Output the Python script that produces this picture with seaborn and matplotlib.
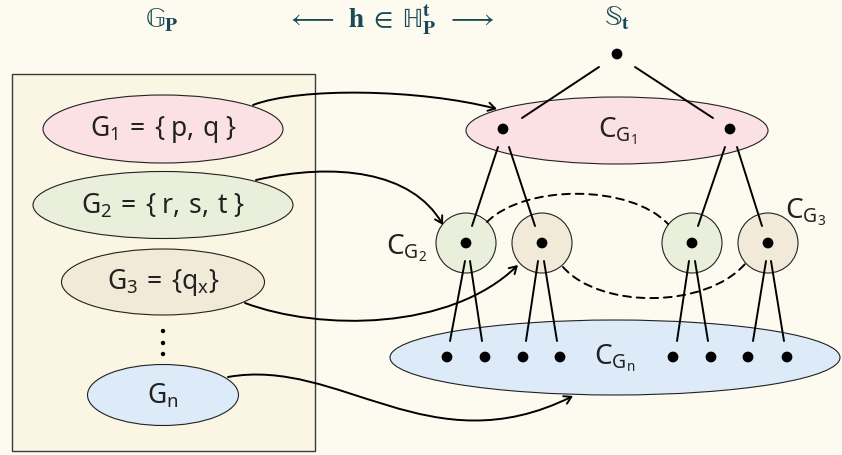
import matplotlib
matplotlib.use("Agg")
import matplotlib.pyplot as plt
import seaborn as sns
import pandas as pd
from matplotlib.patches import Ellipse, Circle, Rectangle, FancyArrowPatch
from matplotlib.path import Path

sns.set_theme(style="white")
plt.rcParams['font.family'] = ['Noto Sans', 'DejaVu Sans']
plt.rcParams['mathtext.fontset'] = 'stix'
plt.rcParams['mathtext.default'] = 'regular'

# colori
bg = '#fdfbf0'
box_fill = '#fbf5e4'
ink = '#1b4a57'
pink = '#fbe0e4'
green = '#e9efdb'
beige = '#f1ead9'
blue = '#dcebf7'

# intestazioni
header_labels = [r'$\mathbb{G}_\mathbf{P}$',
                 r'$\longleftarrow\;\; \mathbf{h} \;\in\; \mathbb{H}_\mathbf{P}^\mathbf{t}\;\; \longrightarrow$',
                 r'$\mathbb{S}_\mathbf{t}$']
header_x = [162, 390, 617]
header_y = [20, 20, 18]

# gruppi a sinistra
group_labels = [r'$G_1\; =\; \{\ p,\; q\ \}$', r'$G_2\; =\; \{\ r,\; s,\; t\ \}$',
                r'$G_3\; =\; \{q_x\}$', r'$G_n$']
group_x = [163, 163, 163, 163]
group_y = [130, 206, 283, 396]
group_w = [240, 260, 203, 151]
group_h = [68, 67, 66, 61]
group_colors = [pink, green, beige, blue]

# albero a destra
root = (617, 55)
cg1_dots_x = [503, 730]
cg1_dots_y = [130, 130]
circle_x = [466, 542, 692, 768]
circle_y = [244, 244, 244, 244]
circle_colors = [green, beige, green, beige]
leaf_x = [447, 485, 523, 560, 673, 711, 748, 787]
leaf_y = [358] * 8

# archi dell'albero (inizio, fine)
edges = [((599, 68), (522, 119)), ((635, 68), (713, 119)),
         ((498, 148), (472, 227)), ((509, 148), (535, 227)),
         ((725, 148), (698, 227)), ((737, 148), (762, 227)),
         ((465, 262), (450, 342)), ((470, 262), (482, 342)),
         ((538, 262), (526, 342)), ((544, 262), (557, 342)),
         ((689, 262), (677, 342)), ((695, 262), (708, 342)),
         ((766, 262), (753, 342)), ((771, 262), (784, 342))]

# frecce curve (bezier cubiche)
arrows = [[(253, 106), (300, 88), (420, 90), (497, 110)],
          [(256, 181), (335, 163), (412, 172), (443, 226)],
          [(245, 304), (320, 332), (450, 332), (518, 266)],
          [(228, 378), (340, 358), (430, 468), (573, 397)]]
dashed = [[(487, 223), (525, 185), (630, 185), (668, 225)],
          [(563, 268), (600, 310), (705, 310), (745, 265)]]

fig = plt.figure(figsize=(8.42, 4.56), dpi=100)
fig.patch.set_facecolor(bg)
ax = fig.add_axes([0, 0, 1, 1])
ax.set_facecolor(bg)

ax.add_patch(Rectangle((12, 75), 303, 377, facecolor=box_fill, edgecolor='#3a3a3a', lw=1.0, zorder=1))

for x, y, w, h, c, lab in zip(group_x, group_y, group_w, group_h, group_colors, group_labels):
    ax.add_patch(Ellipse((x, y), w, h, facecolor=c, edgecolor='#222222', lw=0.8, zorder=2))
    ax.text(x, y, lab, ha='center', va='center', fontsize=19, color='#222222', zorder=5)

for x, y, lab in zip(header_x, header_y, header_labels):
    ax.text(x, y, lab, ha='center', va='center', fontsize=20, color=ink, fontweight='bold')

# ellissi C_G1 e C_Gn
ax.add_patch(Ellipse((617, 131.5), 302, 67, facecolor=pink, edgecolor='#222222', lw=0.8, zorder=2))
ax.add_patch(Ellipse((615, 358.5), 450, 75, facecolor=blue, edgecolor='#222222', lw=0.8, zorder=2))
c_size = 20
ax.text(617, 131, r'$C_{G_1}$', ha='center', va='center', fontsize=c_size, color='#222222', zorder=5)
ax.text(615, 358, r'$C_{G_n}$', ha='center', va='center', fontsize=c_size, color='#222222', zorder=5)
ax.text(407, 248, r'$C_{G_2}$', ha='center', va='center', fontsize=c_size, color='#222222', zorder=5)
ax.text(806, 212, r'$C_{G_3}$', ha='center', va='center', fontsize=c_size, color='#222222', zorder=5)

for x, y, c in zip(circle_x, circle_y, circle_colors):
    ax.add_patch(Circle((x, y), 30, facecolor=c, edgecolor='#222222', lw=0.8, zorder=2))

for (x0, y0), (x1, y1) in edges:
    ax.plot([x0, x1], [y0, y1], color='black', lw=1.4, zorder=4)

codes = [Path.MOVETO, Path.CURVE4, Path.CURVE4, Path.CURVE4]
for pts in arrows:
    ax.add_patch(FancyArrowPatch(path=Path(pts, codes), arrowstyle='->,head_length=5,head_width=3',
                                 color='black', lw=1.4, zorder=6))
for pts in dashed:
    ax.add_patch(FancyArrowPatch(path=Path(pts, codes), arrowstyle='-', color='black', lw=1.4,
                                 linestyle=(0, (4, 3)), zorder=3))

# punti
dots = pd.DataFrame({
    'x': [root[0]] + cg1_dots_x + circle_x + leaf_x,
    'y': [root[1]] + cg1_dots_y + circle_y + leaf_y,
})
sns.scatterplot(data=dots, x='x', y='y', ax=ax, color='black', s=60, edgecolor='none', legend=False, zorder=7)
vdots = pd.DataFrame({'x': [163, 163, 163], 'y': [332, 344, 355]})
sns.scatterplot(data=vdots, x='x', y='y', ax=ax, color='black', s=10, edgecolor='none', legend=False, zorder=7)

ax.set_xlim(0, 842)
ax.set_ylim(456, 0)
ax.axis('off')

fig.savefig('out.png', dpi=100, facecolor=bg)
